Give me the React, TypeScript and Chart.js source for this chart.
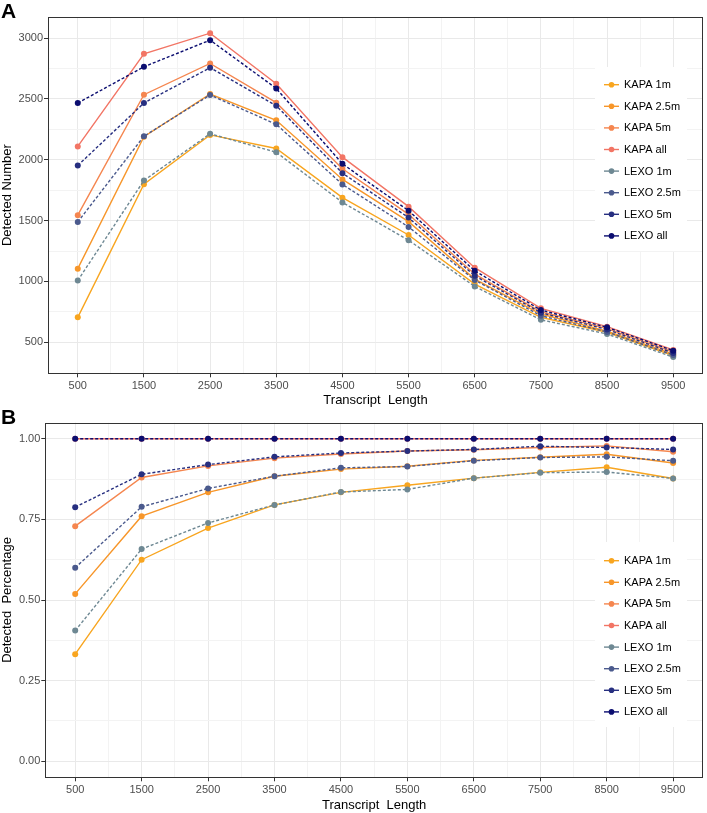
import React, { useEffect, useRef } from 'react';
import { Chart, registerables } from 'chart.js';

Chart.register(...registerables);

// ---------- data ----------
const lengths = [500, 1500, 2500, 3500, 4500, 5500, 6500, 7500, 8500, 9500];
const seriesNames = ['KAPA 1m', 'KAPA 2.5m', 'KAPA 5m', 'KAPA all', 'LEXO 1m', 'LEXO 2.5m', 'LEXO 5m', 'LEXO all'];
const seriesColors = ['#F8A51F', '#F7962A', '#F5864F', '#F27565', '#6E8893', '#4B5A8D', '#272F80', '#0B0D70'];
const seriesDashed = [false, false, false, false, true, true, true, true];

// Panel A: detected number
const kapa1mNum = [705, 1800, 2205, 2093, 1689, 1382, 978, 705, 582, 390];
const kapa25mNum = [1105, 2190, 2541, 2325, 1839, 1492, 1019, 732, 592, 403];
const kapa5mNum = [1545, 2535, 2792, 2470, 1926, 1552, 1060, 751, 612, 420];
const kapaAllNum = [2110, 2871, 3041, 2625, 2022, 1615, 1113, 779, 628, 437];
const lexo1mNum = [1008, 1830, 2214, 2062, 1650, 1339, 959, 685, 568, 378];
const lexo25mNum = [1489, 2194, 2533, 2292, 1798, 1448, 1011, 718, 585, 395];
const lexo5mNum = [1953, 2467, 2757, 2445, 1890, 1525, 1046, 743, 605, 412];
const lexoAllNum = [2467, 2765, 2984, 2587, 1967, 1582, 1087, 765, 623, 431];

// Panel B: detected percentage
const kapa1mPct = [0.332, 0.625, 0.723, 0.795, 0.834, 0.856, 0.878, 0.896, 0.912, 0.877];
const kapa25mPct = [0.519, 0.76, 0.834, 0.884, 0.906, 0.915, 0.933, 0.943, 0.952, 0.925];
const kapa5mPct = [0.729, 0.88, 0.916, 0.94, 0.953, 0.962, 0.966, 0.973, 0.978, 0.96];
const kapaAllPct = [1, 1, 1, 1, 1, 1, 1, 1, 1, 1];
const lexo1mPct = [0.405, 0.658, 0.739, 0.795, 0.835, 0.843, 0.878, 0.895, 0.897, 0.877];
const lexo25mPct = [0.6, 0.789, 0.846, 0.884, 0.91, 0.914, 0.932, 0.942, 0.944, 0.932];
const lexo5mPct = [0.788, 0.89, 0.92, 0.944, 0.956, 0.962, 0.967, 0.977, 0.973, 0.967];
const lexoAllPct = [1, 1, 1, 1, 1, 1, 1, 1, 1, 1];

// tick labels
const xMajorTicks = lengths;
const xMinorTicks = [1000, 2000, 3000, 4000, 5000, 6000, 7000, 8000, 9000];
const yMajorTicksA = [500, 1000, 1500, 2000, 2500, 3000];
const yMinorTicksA = [750, 1250, 1750, 2250, 2750];
const yMajorTicksB = [0, 0.25, 0.5, 0.75, 1.0];
const yMinorTicksB = [0.125, 0.375, 0.625, 0.875];

const FONT = '"Liberation Sans", Arial, Helvetica, sans-serif';

function expandRange(values: number[]): [number, number] {
  const lo = Math.min(...values);
  const hi = Math.max(...values);
  const pad = (hi - lo) * 0.05;
  return [lo - pad, hi + pad];
}

function buildTicks(major: number[], minor: number[]) {
  const all = [
    ...major.map((v) => ({ value: v, minor: false })),
    ...minor.map((v) => ({ value: v, minor: true })),
  ];
  all.sort((a, b) => a.value - b.value);
  return all;
}

const panelPlugin = {
  id: 'panelDecor',
  afterDatasetsDraw(chart: any, _args: any, opts: any) {
    const ctx = chart.ctx;
    const area = chart.chartArea;
    ctx.save();
    // legend
    const lg = opts.legend;
    ctx.fillStyle = '#FFFFFF';
    ctx.fillRect(lg.x, lg.y, lg.w, lg.h);
    ctx.font = `11px ${FONT}`;
    ctx.textBaseline = 'middle';
    ctx.textAlign = 'left';
    chart.data.datasets.forEach((ds: any, i: number) => {
      const y = lg.y0 + i * lg.step;
      ctx.strokeStyle = ds.borderColor;
      ctx.lineWidth = 1.4;
      ctx.setLineDash([]);
      ctx.beginPath();
      ctx.moveTo(lg.x + 9, y);
      ctx.lineTo(lg.x + 24, y);
      ctx.stroke();
      ctx.fillStyle = ds.borderColor;
      ctx.beginPath();
      ctx.arc(lg.x + 16.5, y, 2.8, 0, Math.PI * 2);
      ctx.fill();
      ctx.fillStyle = '#000000';
      ctx.fillText(ds.label, lg.x + 29, y + 0.5);
    });
    // panel border
    ctx.strokeStyle = '#333333';
    ctx.lineWidth = 1;
    ctx.setLineDash([]);
    ctx.strokeRect(
      Math.round(area.left) + 0.5,
      Math.round(area.top) + 0.5,
      Math.round(area.right) - Math.round(area.left) - 1,
      Math.round(area.bottom) - Math.round(area.top)
    );
    // panel label
    ctx.fillStyle = '#000000';
    ctx.font = `bold 21px ${FONT}`;
    ctx.textBaseline = 'alphabetic';
    ctx.fillText(opts.label, opts.labelX, opts.labelY);
    ctx.restore();
  },
};

type PanelSpec = {
  series: number[][];
  yMajor: number[];
  yMinor: number[];
  yFormat: (v: number) => string;
  yTitle: string;
  label: string;
  labelY: number;
  width: number;
  height: number;
  padTop: number;
  yWidth: number;
  xHeight: number;
  titlePadBottom: number;
  legend: { x: number; y: number; w: number; h: number; y0: number; step: number };
  fixedRange?: [number, number];
};

function makeConfig(p: PanelSpec): any {
  const [yMin, yMax] = p.fixedRange ?? expandRange(p.series.flat());
  const [xMin, xMax] = expandRange(lengths);
  const datasets = seriesNames.map((name, i) => ({
    label: name,
    data: lengths.map((x, j) => ({ x, y: p.series[i][j] })),
    borderColor: seriesColors[i],
    backgroundColor: seriesColors[i],
    pointBackgroundColor: seriesColors[i],
    pointBorderWidth: 0,
    pointRadius: 3,
    borderWidth: 1.4,
    borderDash: seriesDashed[i] ? [3, 2] : [],
    tension: 0,
    order: seriesNames.length - i,
  }));
  const gridColor = (c: any) => (c.tick && c.tick.minor ? '#F3F3F3' : '#E9E9E9');
  const tickColor = (c: any) => (c.tick && c.tick.minor ? 'rgba(0,0,0,0)' : '#333333');
  return {
    type: 'line',
    data: { datasets },
    options: {
      responsive: false,
      animation: false,
      events: [],
      layout: { padding: { top: p.padTop, right: 1, left: 0, bottom: 0 } },
      plugins: {
        legend: { display: false },
        tooltip: { enabled: false },
        panelDecor: { legend: p.legend, label: p.label, labelX: 1, labelY: p.labelY },
      },
      scales: {
        x: {
          type: 'linear',
          min: xMin,
          max: xMax,
          afterBuildTicks: (scale: any) => {
            scale.ticks = buildTicks(xMajorTicks, xMinorTicks);
          },
          afterFit: (scale: any) => {
            scale.height = p.xHeight;
          },
          ticks: {
            autoSkip: false,
            maxRotation: 0,
            minRotation: 0,
            padding: 2,
            color: '#4D4D4D',
            font: { family: FONT, size: 11 },
            callback: (v: number, i: number, ticks: any[]) => (ticks[i].minor ? '' : String(v)),
          },
          grid: { color: gridColor, tickColor, tickLength: 4, lineWidth: 1, drawTicks: true },
          border: { display: false },
          title: {
            display: true,
            text: 'Transcript  Length',
            color: '#000000',
            font: { family: FONT, size: 13 },
            padding: { top: 0, bottom: p.titlePadBottom },
          },
        },
        y: {
          type: 'linear',
          min: yMin,
          max: yMax,
          afterBuildTicks: (scale: any) => {
            scale.ticks = buildTicks(p.yMajor, p.yMinor);
          },
          afterFit: (scale: any) => {
            scale.width = p.yWidth;
          },
          ticks: {
            autoSkip: false,
            padding: 1,
            color: '#4D4D4D',
            font: { family: FONT, size: 11 },
            callback: (v: number, i: number, ticks: any[]) => (ticks[i].minor ? '' : p.yFormat(v)),
          },
          grid: { color: gridColor, tickColor, tickLength: 4, lineWidth: 1, drawTicks: true },
          border: { display: false },
          title: {
            display: true,
            text: p.yTitle,
            color: '#000000',
            font: { family: FONT, size: 13 },
            padding: { top: 0, bottom: 0 },
          },
        },
      },
    },
    plugins: [panelPlugin],
  };
}

const panelA: PanelSpec = {
  series: [kapa1mNum, kapa25mNum, kapa5mNum, kapaAllNum, lexo1mNum, lexo25mNum, lexo5mNum, lexoAllNum],
  yMajor: yMajorTicksA,
  yMinor: yMinorTicksA,
  yFormat: (v) => String(v),
  yTitle: 'Detected Number',
  label: 'A',
  labelY: 18,
  width: 707,
  height: 410,
  padTop: 17,
  yWidth: 48,
  xHeight: 36.7,
  titlePadBottom: 2.2,
  legend: { x: 595, y: 67, w: 92, h: 184, y0: 84.7, step: 21.6 },
};

const panelB: PanelSpec = {
  series: [kapa1mPct, kapa25mPct, kapa5mPct, kapaAllPct, lexo1mPct, lexo25mPct, lexo5mPct, lexoAllPct],
  yMajor: yMajorTicksB,
  yMinor: yMinorTicksB,
  yFormat: (v) => v.toFixed(2),
  yTitle: 'Detected  Percentage',
  label: 'B',
  labelY: 24,
  width: 707,
  height: 413,
  padTop: 22.7,
  yWidth: 45.3,
  xHeight: 35.7,
  titlePadBottom: 0.2,
  legend: { x: 595, y: 142, w: 92, h: 185, y0: 160.7, step: 21.6 },
  fixedRange: [-0.05, 1.05],
};

function Panel({ spec, top }: { spec: PanelSpec; top: number }) {
  const ref = useRef<HTMLCanvasElement | null>(null);
  useEffect(() => {
    if (!ref.current) return;
    const chart = new Chart(ref.current, makeConfig(spec));
    return () => chart.destroy();
  }, [spec]);
  return (
    <canvas
      ref={ref}
      width={spec.width}
      height={spec.height}
      style={{ position: 'absolute', left: 0, top, width: spec.width, height: spec.height }}
    />
  );
}

export default function App() {
  return (
    <div style={{ position: 'absolute', left: 0, top: 0, width: 707, height: 813, background: '#fff' }}>
      <Panel spec={panelA} top={0} />
      <Panel spec={panelB} top={400} />
    </div>
  );
}
